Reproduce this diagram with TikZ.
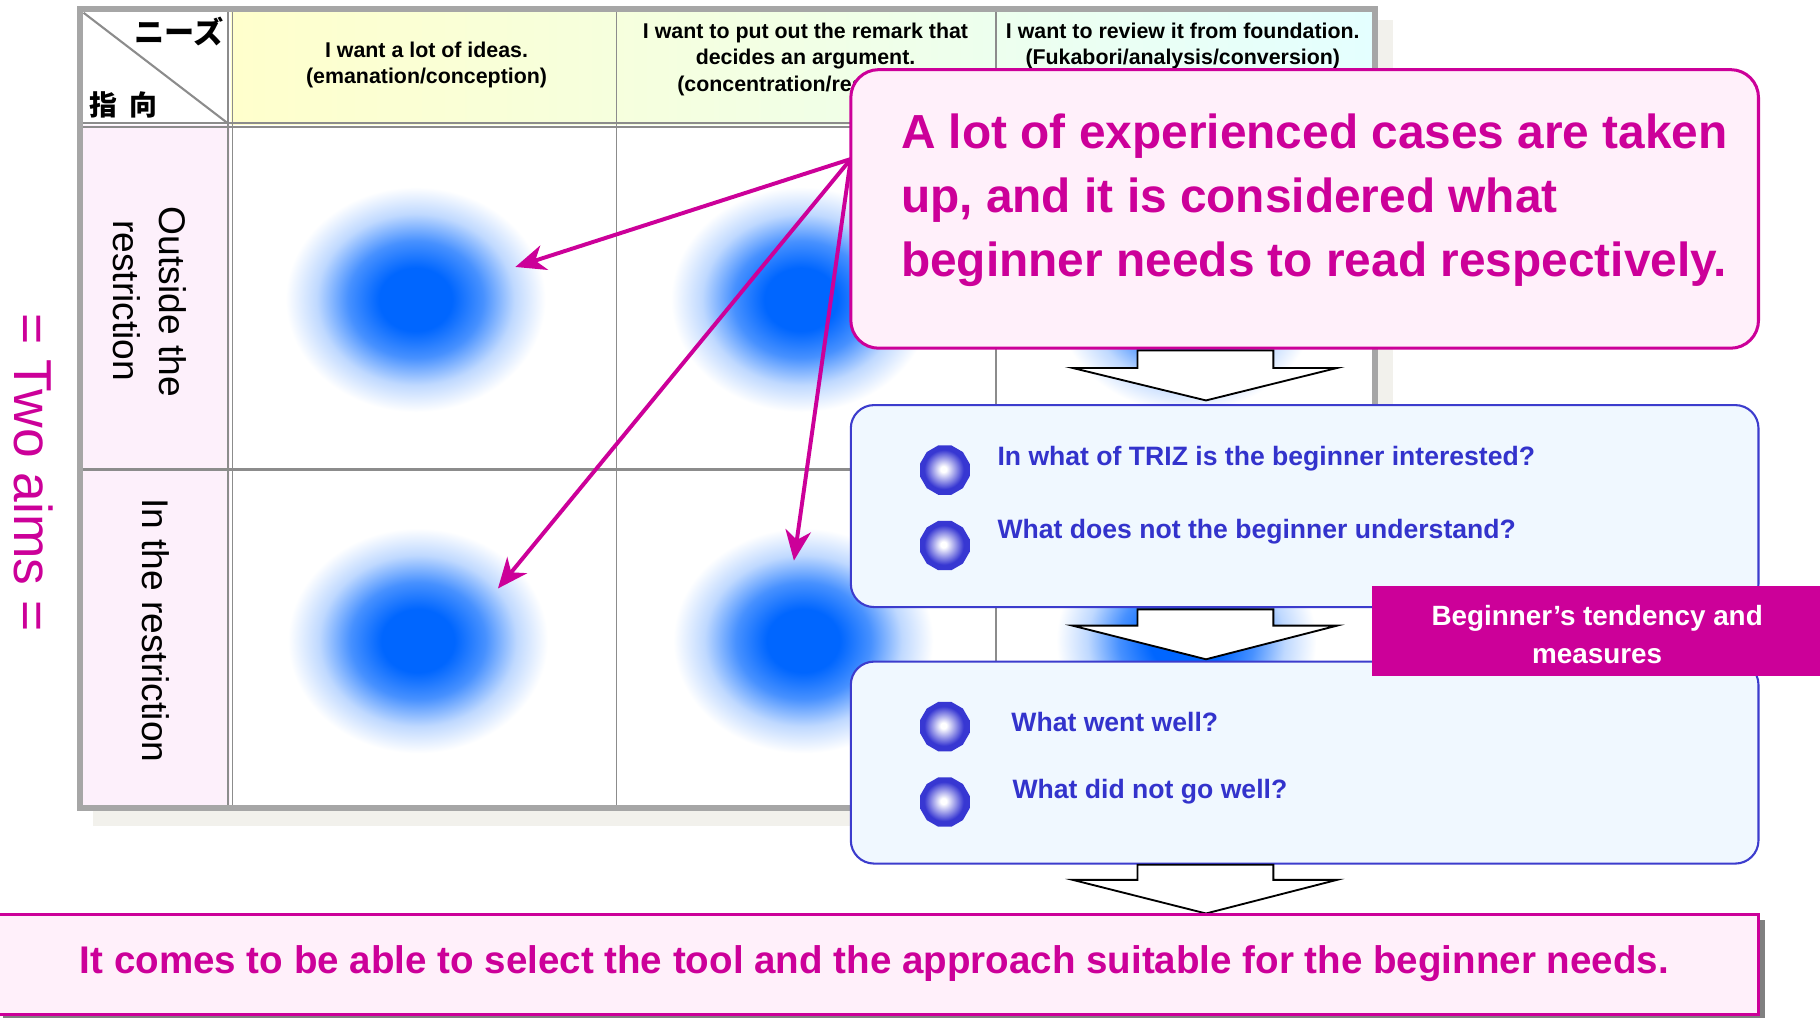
\documentclass[tikz,border=0pt]{standalone}
\usepackage{fontspec}
\setmainfont{Liberation Sans}
\newfontfamily\jpfont{Noto Sans CJK JP}
\usetikzlibrary{arrows.meta,shapes.geometric}

\definecolor{mag}{RGB}{204,0,153}
\definecolor{pinkbg}{RGB}{255,240,250}
\definecolor{bluebg}{RGB}{240,248,255}
\definecolor{blueln}{RGB}{60,60,205}
\definecolor{ballblue}{RGB}{55,55,210}
\definecolor{bluetx}{RGB}{51,51,204}
\definecolor{tgray}{RGB}{166,166,166}
\definecolor{lgray}{RGB}{140,140,140}
\definecolor{shad}{RGB}{242,241,236}
\definecolor{blobblue}{RGB}{0,102,255}
\definecolor{rowpink}{RGB}{253,240,251}
\definecolor{hdyellow}{RGB}{255,255,204}
\definecolor{hdgreen}{RGB}{230,255,215}
\definecolor{hdcyan}{RGB}{228,255,255}
\definecolor{boxshadow}{RGB}{128,128,128}

\pgfdeclareradialshading{blob}{\pgfpoint{0bp}{0bp}}{color(0bp)=(blobblue); color(7bp)=(blobblue); color(13bp)=(blobblue!72!white); color(19bp)=(blobblue!25!white); color(25bp)=(white); color(50bp)=(white)}
\pgfdeclareradialshading{ball}{\pgfpoint{-1.5bp}{1bp}}{color(0bp)=(white); color(3bp)=(white); color(20bp)=(ballblue); color(25bp)=(ballblue); color(50bp)=(ballblue)}

\begin{document}
\begin{tikzpicture}[x=0.5pt,y=-0.5pt,
  hdtext/.style={font=\fontsize{9.2pt}{11pt}\selectfont\bfseries, inner sep=0pt, anchor=base},
  rowtext/.style={font=\fontsize{16pt}{20pt}\selectfont, inner sep=0pt, anchor=base, rotate=-90},
  bigtext/.style={font=\fontsize{20.6pt}{27pt}\selectfont\bfseries, text=mag, inner sep=0pt, anchor=base west},
  qtext/.style={font=\fontsize{11.45pt}{14pt}\selectfont\bfseries, text=bluetx, inner sep=0pt, anchor=base west},
  bluebox/.style={draw=blueln, line width=0.9pt, fill=bluebg, rounded corners=10pt, minimum width=391pt, minimum height=87pt, inner sep=0pt},
  bulletball/.style={regular polygon, regular polygon sides=12, minimum size=22pt, inner sep=0pt, shading=ball},
  blockarr/.style={draw=black, line width=0.8pt, fill=white, line join=miter},
  magarrow/.style={draw=mag, line width=1.7pt, -{Stealth[length=13pt,width=11pt,inset=4pt]}},
  gridline/.style={draw=lgray, line width=0.6pt}
]
\useasboundingbox (0,0) rectangle (1568,877);
\clip (0,0) rectangle (1568,877);
\fill[white] (0,0) rectangle (1568,877);

% ---------- table ----------
\fill[shad] (80,695) rectangle (1200,712);
\fill[shad] (1185,17) rectangle (1200,712);
\fill[white] (69,8) rectangle (1185,696);
\shade[left color=hdyellow, middle color=hdgreen, right color=hdcyan] (199,8) rectangle (1185,107);
\fill[rowpink] (69,108) rectangle (198,696);

% blobs
\foreach \bx/\by in {358/258, 690/258, 1022/258, 360/552, 692/552, 1022/552}
  \shade[shading=blob] (\bx,\by) ellipse [x radius=112, y radius=97];

% grid lines
\draw[gridline] (69,106) -- (1185,106);
\draw[gridline] (69,109.5) -- (1185,109.5);
\draw[gridline] (196.5,8) -- (196.5,696);
\draw[gridline] (200.5,8) -- (200.5,696);
\draw[gridline] (531,8) -- (531,696);
\draw[gridline] (858,8) -- (858,696);
\draw[lgray, line width=1pt] (69,404.5) -- (1185,404.5);
\draw[lgray, line width=0.9pt] (72,11) -- (196,106);
\draw[tgray, line width=2.5pt] (68.8,7.5) rectangle (1184.5,696);

% corner labels
\node[font=\jpfont\bfseries\fontsize{13pt}{15pt}\selectfont, inner sep=0pt, anchor=east] (needs) at (193,27) {ニーズ};
\node[font=\jpfont\bfseries\fontsize{12pt}{14pt}\selectfont, inner sep=0pt, anchor=west] (shiko) at (77,90) {指\hspace{5pt}向};

% header texts
\node[hdtext] (h1a) at (367.5,49.4) {I want a lot of ideas.};
\node[hdtext] (h1b) at (367.5,72) {(emanation/conception)};
\node[hdtext] (h2a) at (694,33) {I want to put out the remark that};
\node[hdtext] (h2b) at (694,55.5) {decides an argument.};
\node[hdtext] (h2c) at (697,78.5) {(concentration/reasoning)};
\node[hdtext] (h3a) at (1019,33.6) {I want to review it from foundation.};
\node[hdtext] (h3b) at (1019,56) {(Fukabori/analysis/conversion)};

% row labels
\node[rowtext] (r1a) at (137.5,260) {Outside the};
\node[rowtext] (r1b) at (97.5,259) {restriction};
\node[rowtext] (r2) at (122.5,543) {In the restriction};

% left title
\node[font=\fontsize{23pt}{26pt}\selectfont, text=mag, inner sep=0pt, anchor=base west, rotate=-90] (aims) at (12.5,270) {= Two aims =};

% ---------- magenta pointers ----------
\coordinate (src) at (733,137);
\coordinate (tA) at (444,230);
\coordinate (tB) at (429,507);
\coordinate (tC) at (684,483);
\draw[magarrow] (src) -- (tA);
\draw[magarrow] (src) -- (tB);
\draw[magarrow] (src) -- (tC);

% ---------- callout ----------
\node[draw=mag, line width=1.3pt, fill=pinkbg, rounded corners=12pt, minimum width=391pt, minimum height=120pt, inner sep=0pt] (callout) at (1124,180) {};
\node[bigtext] (c1) at (776,128) {A lot of experienced cases are taken};
\node[bigtext] (c2) at (776,183) {up, and it is considered what};
\node[bigtext] (c3) at (776,238.5) {beginner needs to read respectively.};

% ---------- blue boxes ----------
\node[bluebox] (box1) at (1124,436) {};
\node[bluebox] (box2) at (1124,657) {};

\node[bulletball] (b1) at (814,405) {};
\node[bulletball] (b2) at (814,470) {};
\node[bulletball] (b3) at (814,626) {};
\node[bulletball] (b4) at (814,691) {};
\node[qtext] (q1) at (859,401) {In what of TRIZ is the beginner interested?};
\node[qtext] (q2) at (859,464) {What does not the beginner understand?};
\node[qtext] (q3) at (871,630) {What went well?};
\node[qtext] (q4) at (872,688) {What did not go well?};

% ---------- block arrows ----------
\draw[blockarr] (980,302) -- (1097,302) -- (1097,317) -- (1152,317) -- (1039,345) -- (924,317) -- (980,317) -- cycle;
\draw[blockarr] (980,525) -- (1097,525) -- (1097,539) -- (1152,539) -- (1039,568) -- (924,539) -- (980,539) -- cycle;
\draw[blockarr] (980,745) -- (1097,745) -- (1097,758) -- (1152,758) -- (1039,787) -- (924,758) -- (980,758) -- cycle;

% ---------- label box ----------
\node[fill=mag, minimum width=194pt, minimum height=38.5pt, inner sep=0pt] (tend) at (1376,543.5) {};
\node[font=\fontsize{12pt}{16pt}\selectfont\bfseries, text=white, inner sep=0pt, anchor=base] (t1) at (1376,539) {Beginner’s tendency and};
\node[font=\fontsize{12pt}{16pt}\selectfont\bfseries, text=white, inner sep=0pt, anchor=base] (t2) at (1376,572) {measures};

% ---------- bottom box ----------
\fill[boxshadow] (3,793) rectangle (1521,880);
\node[draw=mag, line width=1pt, fill=pinkbg, minimum width=759pt, minimum height=43pt, inner sep=0pt] (bottombox) at (756,831) {};
\node[font=\fontsize{16.6pt}{20pt}\selectfont\bfseries, text=mag, inner sep=0pt, anchor=base west] (btext) at (68.5,838.5) {It comes to be able to select the tool and the approach suitable for the beginner needs.};
\end{tikzpicture}
\end{document}
